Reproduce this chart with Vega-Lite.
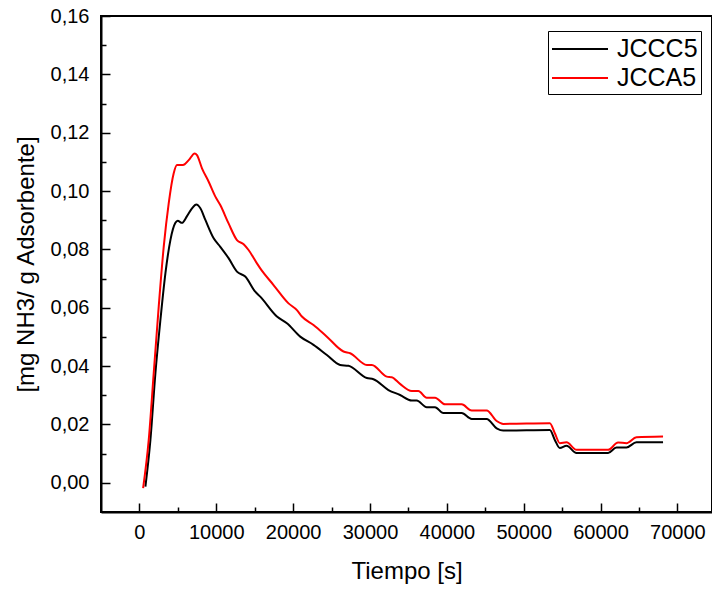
{
  "$schema": "https://vega.github.io/schema/vega-lite/v6.json",
  "autosize": {"type": "none"},
  "padding": {"left": 101, "top": 16, "right": 0, "bottom": 78},
  "width": 611,
  "height": 496,
  "background": "white",
  "config": {
    "font": "Liberation Sans",
    "view": {"stroke": "black", "strokeWidth": 2},
    "axis": {"grid": false, "domainColor": "black", "domainWidth": 2, "tickColor": "black", "tickWidth": 1.5, "labelColor": "black", "titleColor": "black", "labelFont": "Liberation Sans", "titleFont": "Liberation Sans", "titleFontWeight": "normal"}
  },
  "data": {"values": [
    {"t": 780, "v": -0.0013, "s": "JCCC5"},
    {"t": 1430, "v": 0.0147, "s": "JCCC5"},
    {"t": 2080, "v": 0.0376, "s": "JCCC5"},
    {"t": 2730, "v": 0.0558, "s": "JCCC5"},
    {"t": 3380, "v": 0.0718, "s": "JCCC5"},
    {"t": 4030, "v": 0.0832, "s": "JCCC5"},
    {"t": 4680, "v": 0.0891, "s": "JCCC5"},
    {"t": 4980, "v": 0.0898, "s": "JCCC5"},
    {"t": 5540, "v": 0.0891, "s": "JCCC5"},
    {"t": 6190, "v": 0.0914, "s": "JCCC5"},
    {"t": 6840, "v": 0.0941, "s": "JCCC5"},
    {"t": 7400, "v": 0.0954, "s": "JCCC5"},
    {"t": 7930, "v": 0.0941, "s": "JCCC5"},
    {"t": 8580, "v": 0.0901, "s": "JCCC5"},
    {"t": 9660, "v": 0.0838, "s": "JCCC5"},
    {"t": 10520, "v": 0.0809, "s": "JCCC5"},
    {"t": 11600, "v": 0.0770, "s": "JCCC5"},
    {"t": 12690, "v": 0.0724, "s": "JCCC5"},
    {"t": 13770, "v": 0.0707, "s": "JCCC5"},
    {"t": 15070, "v": 0.0655, "s": "JCCC5"},
    {"t": 15720, "v": 0.0638, "s": "JCCC5"},
    {"t": 17890, "v": 0.0570, "s": "JCCC5"},
    {"t": 19190, "v": 0.0547, "s": "JCCC5"},
    {"t": 20920, "v": 0.0501, "s": "JCCC5"},
    {"t": 22650, "v": 0.0473, "s": "JCCC5"},
    {"t": 24390, "v": 0.0438, "s": "JCCC5"},
    {"t": 26120, "v": 0.0404, "s": "JCCC5"},
    {"t": 27200, "v": 0.0401, "s": "JCCC5"},
    {"t": 29590, "v": 0.0359, "s": "JCCC5"},
    {"t": 30450, "v": 0.0355, "s": "JCCC5"},
    {"t": 32400, "v": 0.0318, "s": "JCCC5"},
    {"t": 33910, "v": 0.0301, "s": "JCCC5"},
    {"t": 35430, "v": 0.0282, "s": "JCCC5"},
    {"t": 36080, "v": 0.0282, "s": "JCCC5"},
    {"t": 37380, "v": 0.0259, "s": "JCCC5"},
    {"t": 38460, "v": 0.0259, "s": "JCCC5"},
    {"t": 39540, "v": 0.0239, "s": "JCCC5"},
    {"t": 41930, "v": 0.0239, "s": "JCCC5"},
    {"t": 43230, "v": 0.0219, "s": "JCCC5"},
    {"t": 45180, "v": 0.0219, "s": "JCCC5"},
    {"t": 46480, "v": 0.0187, "s": "JCCC5"},
    {"t": 47340, "v": 0.0179, "s": "JCCC5"},
    {"t": 53400, "v": 0.0181, "s": "JCCC5"},
    {"t": 54050, "v": 0.0147, "s": "JCCC5"},
    {"t": 54700, "v": 0.0119, "s": "JCCC5"},
    {"t": 55570, "v": 0.0127, "s": "JCCC5"},
    {"t": 56870, "v": 0.0102, "s": "JCCC5"},
    {"t": 60980, "v": 0.0102, "s": "JCCC5"},
    {"t": 62070, "v": 0.0121, "s": "JCCC5"},
    {"t": 63370, "v": 0.0121, "s": "JCCC5"},
    {"t": 64670, "v": 0.0139, "s": "JCCC5"},
    {"t": 68130, "v": 0.0139, "s": "JCCC5"},
    {"t": 480, "v": -0.0018, "s": "JCCA5"},
    {"t": 1210, "v": 0.0147, "s": "JCCA5"},
    {"t": 1860, "v": 0.0376, "s": "JCCA5"},
    {"t": 2510, "v": 0.0604, "s": "JCCA5"},
    {"t": 3160, "v": 0.0809, "s": "JCCA5"},
    {"t": 3810, "v": 0.0958, "s": "JCCA5"},
    {"t": 4460, "v": 0.1061, "s": "JCCA5"},
    {"t": 4890, "v": 0.1089, "s": "JCCA5"},
    {"t": 5670, "v": 0.1089, "s": "JCCA5"},
    {"t": 6410, "v": 0.1106, "s": "JCCA5"},
    {"t": 7190, "v": 0.1129, "s": "JCCA5"},
    {"t": 7490, "v": 0.1123, "s": "JCCA5"},
    {"t": 8140, "v": 0.1078, "s": "JCCA5"},
    {"t": 9010, "v": 0.1032, "s": "JCCA5"},
    {"t": 9880, "v": 0.0981, "s": "JCCA5"},
    {"t": 10520, "v": 0.0952, "s": "JCCA5"},
    {"t": 11600, "v": 0.0889, "s": "JCCA5"},
    {"t": 12690, "v": 0.0832, "s": "JCCA5"},
    {"t": 13560, "v": 0.0818, "s": "JCCA5"},
    {"t": 14200, "v": 0.0798, "s": "JCCA5"},
    {"t": 15290, "v": 0.0752, "s": "JCCA5"},
    {"t": 15720, "v": 0.0735, "s": "JCCA5"},
    {"t": 17450, "v": 0.0678, "s": "JCCA5"},
    {"t": 19400, "v": 0.0615, "s": "JCCA5"},
    {"t": 20490, "v": 0.0592, "s": "JCCA5"},
    {"t": 21140, "v": 0.0570, "s": "JCCA5"},
    {"t": 22650, "v": 0.0541, "s": "JCCA5"},
    {"t": 24390, "v": 0.0501, "s": "JCCA5"},
    {"t": 26550, "v": 0.0450, "s": "JCCA5"},
    {"t": 27420, "v": 0.0444, "s": "JCCA5"},
    {"t": 29590, "v": 0.0404, "s": "JCCA5"},
    {"t": 30240, "v": 0.0404, "s": "JCCA5"},
    {"t": 32190, "v": 0.0364, "s": "JCCA5"},
    {"t": 32830, "v": 0.0362, "s": "JCCA5"},
    {"t": 33910, "v": 0.0339, "s": "JCCA5"},
    {"t": 35430, "v": 0.0315, "s": "JCCA5"},
    {"t": 36290, "v": 0.0315, "s": "JCCA5"},
    {"t": 37380, "v": 0.0292, "s": "JCCA5"},
    {"t": 38460, "v": 0.0292, "s": "JCCA5"},
    {"t": 39760, "v": 0.0269, "s": "JCCA5"},
    {"t": 41930, "v": 0.0269, "s": "JCCA5"},
    {"t": 43230, "v": 0.0248, "s": "JCCA5"},
    {"t": 45180, "v": 0.0248, "s": "JCCA5"},
    {"t": 46480, "v": 0.0212, "s": "JCCA5"},
    {"t": 47340, "v": 0.0202, "s": "JCCA5"},
    {"t": 53400, "v": 0.0204, "s": "JCCA5"},
    {"t": 54050, "v": 0.0170, "s": "JCCA5"},
    {"t": 54700, "v": 0.0136, "s": "JCCA5"},
    {"t": 55570, "v": 0.0139, "s": "JCCA5"},
    {"t": 56870, "v": 0.0113, "s": "JCCA5"},
    {"t": 60980, "v": 0.0113, "s": "JCCA5"},
    {"t": 62280, "v": 0.0138, "s": "JCCA5"},
    {"t": 63370, "v": 0.0136, "s": "JCCA5"},
    {"t": 64670, "v": 0.0156, "s": "JCCA5"},
    {"t": 68130, "v": 0.0159, "s": "JCCA5"}
  ]},
  "resolve": {"axis": {"x": "independent", "y": "independent"}},
  "layer": [
    {
      "mark": {"type": "line", "strokeWidth": 2, "interpolate": "monotone", "clip": true},
      "encoding": {
        "x": {"field": "t", "type": "quantitative",
          "scale": {"domain": [-5000, 74500], "nice": false, "zero": false},
          "axis": {"orient": "bottom", "title": "Tiempo [s]", "values": [0, 10000, 20000, 30000, 40000, 50000, 60000, 70000], "format": "d", "tickSize": -9, "labelPadding": 19, "labelFontSize": 20, "titleFontSize": 24, "titlePadding": 17, "labelFlush": false}},
        "y": {"field": "v", "type": "quantitative",
          "scale": {"domain": [-0.01, 0.16], "nice": false, "zero": false},
          "axis": {"orient": "left", "title": "[mg NH3/ g Adsorbente]", "values": [0, 0.02, 0.04, 0.06, 0.08, 0.1, 0.12, 0.14, 0.16], "labelExpr": "replace(format(datum.value, '.2f'), '.', ',')", "tickSize": -9, "labelPadding": 21, "labelFontSize": 20, "titleFontSize": 24, "titlePadding": 12, "labelFlush": false}},
        "color": {"field": "s", "type": "nominal", "sort": ["JCCC5", "JCCA5"],
          "scale": {"domain": ["JCCC5", "JCCA5"], "range": ["#000000", "#ff0000"]},
          "legend": {"title": null, "orient": "none", "legendX": 447, "legendY": 15, "strokeColor": "black", "fillColor": "white", "padding": 3, "symbolType": "M-1,0H3", "symbolSize": 784, "symbolStrokeWidth": 2, "labelFontSize": 25, "labelFont": "Liberation Sans", "labelColor": "black", "labelOffset": 36, "rowPadding": 1, "labelLimit": 200}}
      }
    },
    {
      "mark": {"type": "point", "opacity": 0},
      "encoding": {
        "x": {"field": "t", "type": "quantitative",
          "axis": {"orient": "bottom", "title": null, "values": [5000, 15000, 25000, 35000, 45000, 55000, 65000], "labels": false, "domain": false, "tickSize": -5}},
        "y": {"field": "v", "type": "quantitative",
          "axis": {"orient": "left", "title": null, "values": [0.01, 0.03, 0.05, 0.07, 0.09, 0.11, 0.13, 0.15], "labels": false, "domain": false, "tickSize": -5}}
      }
    }
  ]
}
